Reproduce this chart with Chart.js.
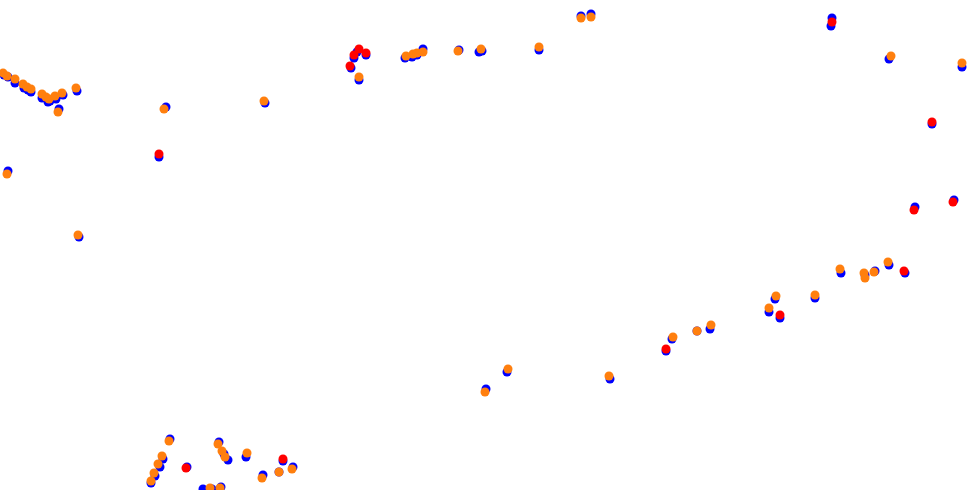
<!DOCTYPE html>
<html>
<head>
<meta charset="utf-8">
<script src="https://cdn.jsdelivr.net/npm/chart.js@4/dist/chart.umd.min.js"></script>
<style>
  html, body { margin: 0; padding: 0; background: #fff; }
  .chart-box { width: 976px; height: 490px; }
</style>
</head>
<body>
<div class="chart-box"><canvas id="track-chart"></canvas></div>
<script>
// points (x, y)
const bluePoints = [
  [4,75],[8,77],[15,83],[24,88],[28,90],[31,92],[42,98],[48,102],[50,101],[56,99],[63,95],[77,91],
  [59,109],[166,107],[159,157],[8,171],[79,237],[265,103],[357,52],[354,58],[366,55],[351,68],
  [359,80],[405,58],[412,57],[417,55],[423,49],[459,50],[479,52],[482,51],[539,50],[581,16],
  [591,14],[832,18],[831,26],[889,59],[962,67],[932,124],[954,200],[915,207],[905,273],[889,265],
  [875,271],[865,275],[841,273],[815,298],[775,299],[769,312],[780,318],[710,329],[697,331],
  [672,339],[666,351],[610,379],[507,372],[486,389],[170,439],[163,459],[160,467],[155,476],
  [151,483],[187,467],[219,442],[224,454],[228,460],[246,457],[263,475],[283,461],[293,467],
  [279,472],[203,489],[212,489],[221,487]
];
const redPoints = [
  [359,49],[354,55],[366,53],[350,66],[159,154],[186,468],[283,459],[832,22],[932,122],
  [953,202],[914,210],[666,349],[780,315],[904,271]
];
const orangePoints = [
  [3,73],[7,76],[15,79],[23,84],[27,87],[31,89],[42,94],[46,97],[49,99],[55,96],[62,93],[76,88],
  [58,112],[164,109],[7,174],[78,235],[264,101],[359,77],[406,56],[413,54],[417,53],[423,52],
  [458,51],[481,49],[539,47],[581,18],[591,17],[891,56],[962,63],[673,337],[697,331],[711,325],
  [769,308],[776,296],[815,295],[840,269],[864,273],[865,278],[874,272],[888,262],[609,376],
  [508,369],[485,392],[169,441],[162,456],[158,464],[154,473],[151,481],[218,444],[222,451],
  [225,457],[247,453],[292,469],[279,472],[262,478],[210,488],[220,488]
];

function toXY(list){
  return list.map((p) => ({ x: p[0], y: p[1] }));
}

const ctx = document.getElementById("track-chart");

new Chart(ctx, {
  type: "scatter",
  data: {
    datasets: [
      { label: "blue", data: toXY(bluePoints), backgroundColor: "#0000ff", order: 3 },
      { label: "red", data: toXY(redPoints), backgroundColor: "#ff0000", order: 1 },
      { label: "orange", data: toXY(orangePoints), backgroundColor: "#ff7f0e", order: 2 }
    ]
  },
  options: {
    responsive: true,
    maintainAspectRatio: false,
    animation: false,
    layout: { padding: 0, autoPadding: false },
    elements: { point: { radius: 4.5, borderWidth: 0, hoverRadius: 4.5 } },
    datasets: { scatter: { clip: false } },
    scales: {
      x: { type: "linear", min: 0, max: 976, display: false },
      y: { type: "linear", min: 0, max: 490, reverse: true, display: false }
    },
    plugins: {
      legend: { display: false },
      tooltip: { enabled: false }
    }
  }
});
</script>
</body>
</html>
